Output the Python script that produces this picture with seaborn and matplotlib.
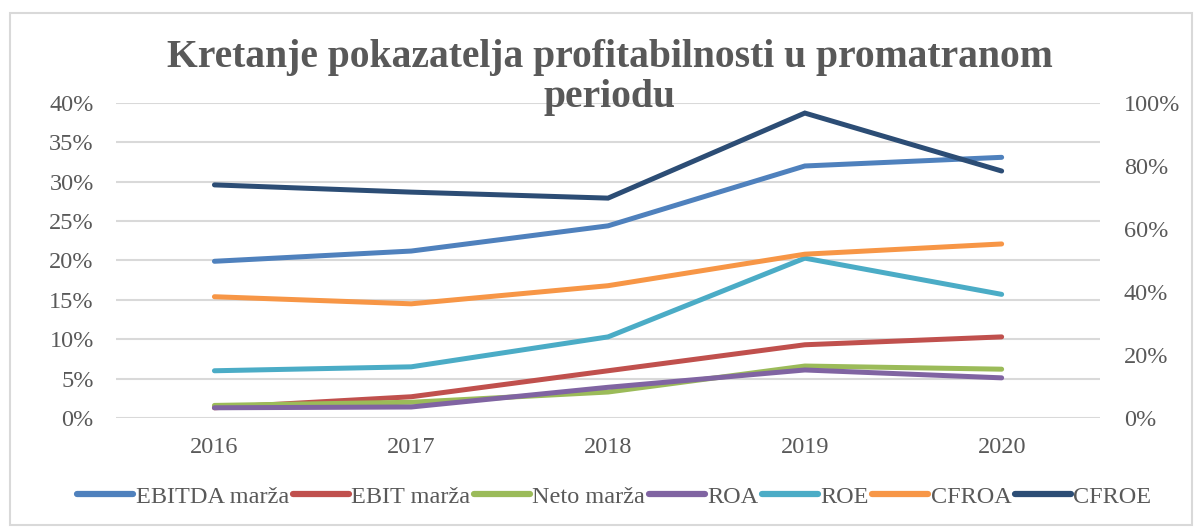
import pandas as pd
import seaborn as sns
import matplotlib.pyplot as plt
from matplotlib.lines import Line2D
from matplotlib.patches import Rectangle
from matplotlib.ticker import PercentFormatter

years = ["2016", "2017", "2018", "2019", "2020"]
ebitda = [19.9, 21.2, 24.4, 32.0, 33.1]
ebit = [1.3, 2.7, 6.0, 9.3, 10.3]
neto = [1.6, 2.0, 3.3, 6.6, 6.2]
roa = [1.3, 1.4, 3.9, 6.1, 5.1]
roe = [6.0, 6.5, 10.3, 20.3, 15.7]
cfroa = [15.4, 14.5, 16.8, 20.8, 22.1]
cfroe = [74.0, 71.7, 69.8, 96.8, 78.4]  # right axis

names = ["EBITDA marža", "EBIT marža", "Neto marža", "ROA", "ROE", "CFROA", "CFROE"]
colors = ["#4F81BD", "#C0504D", "#9BBB59", "#8064A2", "#4BACC6", "#F79646", "#2C4D75"]

left = pd.DataFrame({"godina": years * 6,
                     "serija": sum([[n] * 5 for n in names[:6]], []),
                     "vrijednost": ebitda + ebit + neto + roa + roe + cfroa})
right = pd.DataFrame({"godina": years, "vrijednost": cfroe})

sns.set_style("white")
plt.rcParams["font.family"] = ["Liberation Serif", "DejaVu Serif"]
txt = "#595959"
grid = "#D9D9D9"

fig = plt.figure(figsize=(12, 5.27), dpi=100)
ax = fig.add_axes([0.0967, 0.2068, 0.82, 0.5978])
lw = 3.6

sns.lineplot(data=left, x="godina", y="vrijednost", hue="serija", palette=colors[:6],
             linewidth=lw, ax=ax, legend=False, sort=False)
ax2 = ax.twinx()
sns.lineplot(data=right, x="godina", y="vrijednost", color=colors[6],
             linewidth=lw, ax=ax2, legend=False, sort=False)
for l in ax.lines + ax2.lines:
    l.set_solid_capstyle("round")
    l.set_solid_joinstyle("miter")

ax.set_ylim(0, 40)
ax.set_yticks(range(0, 41, 5))
ax2.set_ylim(0, 100)
ax2.set_yticks(range(0, 101, 20))
ax.yaxis.set_major_formatter(PercentFormatter(decimals=0))
ax2.yaxis.set_major_formatter(PercentFormatter(decimals=0))
ax.set_xlim(-0.5, 4.5)
ax.grid(axis="y", color=grid, linewidth=1.5)
ax.set_axisbelow(True)
for a in (ax, ax2):
    for s in a.spines.values():
        s.set_visible(False)
    a.set_xlabel("")
    a.set_ylabel("")
    a.tick_params(length=0, labelsize=17.5, labelcolor=txt)
ax.tick_params(axis="y", pad=16)
ax2.tick_params(axis="y", pad=17)
ax.tick_params(axis="x", pad=14)

fig.text(0.508, 0.853, "Kretanje pokazatelja profitabilnosti u promatranom\nperiodu",
         ha="center", va="center", fontsize=28.5, fontweight="bold", color=txt,
         linespacing=1.12)

handles = [Line2D([0], [0], color=c, linewidth=4.5, solid_capstyle="round") for c in colors]
fig.legend(handles, names, loc="center", bbox_to_anchor=(0.512, 0.057), ncol=7,
           frameon=False, fontsize=17.5, labelcolor=txt, handlelength=2.3,
           handletextpad=0.1, columnspacing=0.15)

fig.patches.append(Rectangle((0.008, 0.004), 0.985, 0.972, transform=fig.transFigure,
                             fill=False, edgecolor=grid, linewidth=1.5))

fig.savefig("out.png", dpi=100)
